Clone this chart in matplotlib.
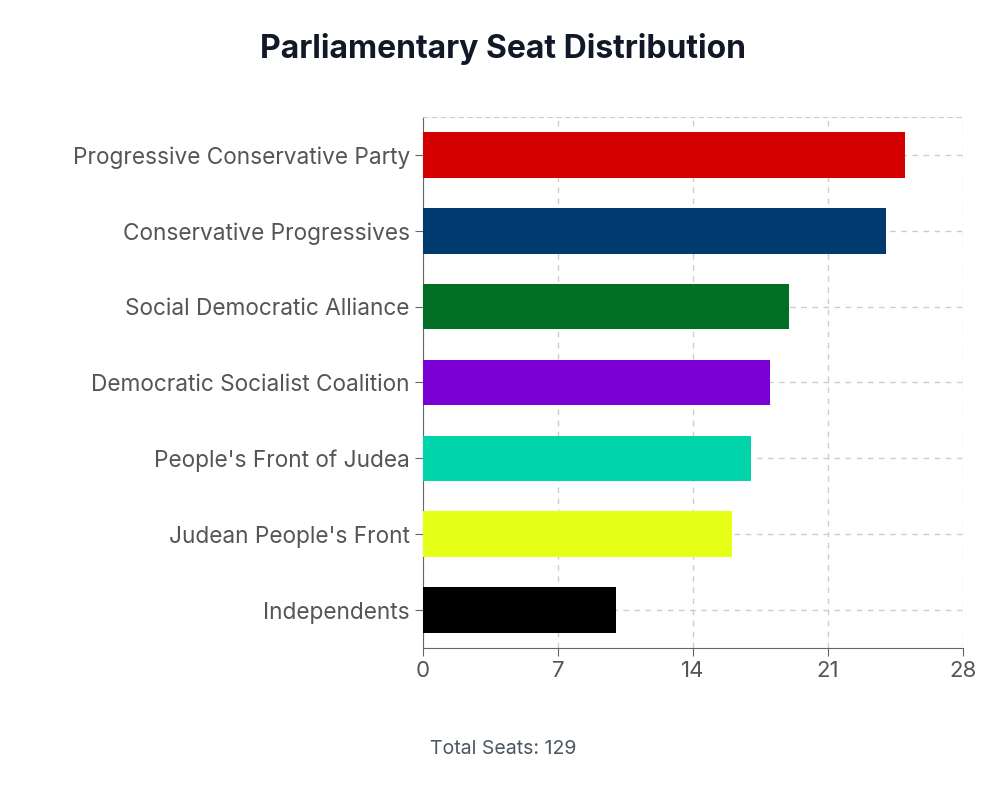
import matplotlib.pyplot as plt
import numpy as np

# Data
parties = ["Progressive Conservative Party", "Conservative Progressives",
           "Social Democratic Alliance", "Democratic Socialist Coalition",
           "People's Front of Judea", "Judean People's Front", "Independents"]
seats = [25, 24, 19, 18, 17, 16, 10]
colors = ["#d40000", "#003a6e", "#006f24", "#7a00d4", "#00d4aa", "#e5ff17", "#000000"]
x_ticks = [0, 7, 14, 21, 28]

plt.rcParams['font.family'] = ['Inter', 'DejaVu Sans']

fig = plt.figure(figsize=(10, 7.88), dpi=100)
ax = fig.add_axes([0.423, 0.1777, 0.54, 0.6738])

y = np.arange(len(parties))
ax.barh(y, seats, height=0.6, color=colors, zorder=3)

ax.set_ylim(len(parties) - 0.5, -0.5)
ax.set_xlim(0, 28)
ax.set_xticks(x_ticks)
ax.set_yticks(y)
ax.set_yticklabels(parties)

ax.grid(True, color="#cccccc", linestyle=(0, (4, 4)), linewidth=1, zorder=0)
ax.set_axisbelow(True)

ax.spines["right"].set_visible(False)
ax.spines["top"].set_color("#cccccc")
ax.spines["top"].set_linestyle((0, (4, 4)))
ax.spines["left"].set_color("#666666")
ax.spines["bottom"].set_color("#666666")

ax.tick_params(axis="y", labelsize=16.3, labelcolor="#555555", color="#666666", length=6)
ax.tick_params(axis="x", labelsize=16, labelcolor="#555555", color="#666666", length=6)

fig.text(0.503, 0.938, "Parliamentary Seat Distribution", ha="center", va="center",
         fontsize=23, fontweight="bold", color="#111827")
fig.text(0.503, 0.049, "Total Seats: 129", ha="center", va="center",
         fontsize=14, color="#4b5563")

fig.savefig("out.png", dpi=100)
